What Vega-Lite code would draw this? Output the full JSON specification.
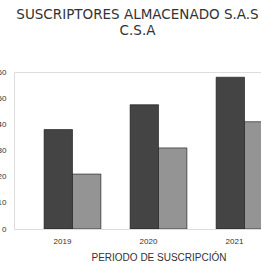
{
  "$schema": "https://vega.github.io/schema/vega-lite/v6.json",
  "autosize": "none",
  "width": 247,
  "height": 157,
  "padding": {"left": 14, "top": 72, "right": 0, "bottom": 35},
  "background": "white",
  "title": {
    "text": ["SUSCRIPTORES ALMACENADO S.A.S", "C.S.A"],
    "fontSize": 13.5,
    "fontWeight": "normal",
    "font": "DejaVu Sans",
    "color": "#333",
    "lineHeight": 16,
    "offset": 31,
    "anchor": "middle"
  },
  "data": {
    "values": [
      {"anio": "2019", "serie": "A", "valor": 38},
      {"anio": "2019", "serie": "B", "valor": 21},
      {"anio": "2020", "serie": "A", "valor": 47.5},
      {"anio": "2020", "serie": "B", "valor": 31},
      {"anio": "2021", "serie": "A", "valor": 58},
      {"anio": "2021", "serie": "B", "valor": 41}
    ]
  },
  "mark": {"type": "bar", "clip": true, "stroke": "#111", "strokeWidth": 0.6},
  "encoding": {
    "x": {
      "field": "anio",
      "type": "nominal",
      "scale": {"range": [0, 289], "paddingInner": 0.34, "paddingOuter": 0.35},
      "axis": {
        "title": "PERIODO DE SUSCRIPCIÓN",
        "titleFontSize": 10,
        "titleFontWeight": "normal",
        "titleColor": "#333",
        "titlePadding": 7,
        "labelAngle": 0,
        "labelFontSize": 8,
        "labelColor": "#333",
        "labelOffset": -10,
        "labelPadding": 8,
        "ticks": false,
        "domain": false
      }
    },
    "xOffset": {"field": "serie", "type": "nominal", "scale": {"paddingInner": 0, "paddingOuter": 0}},
    "y": {
      "field": "valor",
      "type": "quantitative",
      "scale": {"domain": [0, 60], "nice": false},
      "axis": {
        "title": null,
        "grid": false,
        "domain": false,
        "ticks": false,
        "values": [0, 10, 20, 30, 40, 50, 60],
        "labelFontSize": 8,
        "labelColor": "#333",
        "labelPadding": 8
      }
    },
    "color": {
      "field": "serie",
      "type": "nominal",
      "scale": {"domain": ["A", "B"], "range": ["#444444", "#949494"]},
      "legend": null
    }
  }
}
